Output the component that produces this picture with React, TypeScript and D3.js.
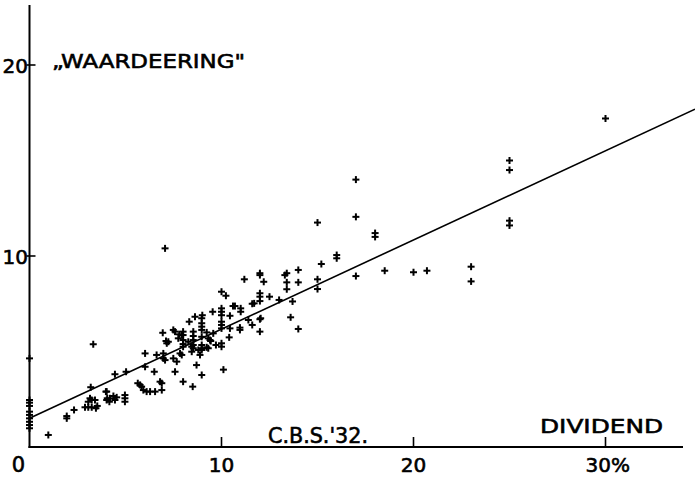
import React from "react";
import * as d3 from "d3";

// Dividend (%) per observation
const dividend: number[] = [
  30, 25, 25, 25, 25, 17, 17, 15, 18, 18, 16, 16, 15.2, 17, 18.5, 20, 20.7, 23, 23, 15, 15, 14, 14,
  13.4, 13.3, 13.4, 13.4, 12, 12, 12.2, 12, 12, 12, 12.5, 13, 13.7, 11.6, 11.7, 12.04, 13.6, 14, 7.06,
  11.19, 10, 10.23, 10.6, 10.7, 11, 11, 10, 10, 10, 9.54, 9, 10.44, 11.4, 11.6, 12, 10.96, 10.96, 12,
  10, 10, 10, 10.44, 10.4, 10, 10, 8.53, 8.53, 8.53, 8.97, 8.97, 8.97, 8.97, 8.97, 9.31, 9.31, 9.57,
  9.4, 8.62, 8.32, 9.44, 7.49, 7.58, 7.8, 7.93, 6.94, 7.11, 7.23, 8, 8, 8, 8.27, 8.53, 8.53, 8.97, 8.97,
  9.23, 9.71, 9.23, 8, 8, 7.75, 7.15, 10.1,
  4.45, 5.03, 6.02, 6.02, 6.5, 6.62, 7.84, 7.93, 6.97, 6.97, 7.06, 7.49, 7.67, 7.58, 8, 8.5, 8.97, 8.7,
  8.88, 8.45, 8.45, 8.79, 8.97,
  5.64, 5.76, 5.84, 5.93, 6.1, 6.28, 6.54, 6.8, 6.89, 6.89,
  4.02, 4.02, 4.19, 4.37, 4.45, 4.54, 4.97, 4.97, 4.97,
  3.32, 3.19, 3.15, 3.24, 3.06, 3.41, 2.89, 3.06, 3.24, 3.53, 3.46, 3.98, 4.05, 4.16, 2.32, 1.94, 1.94, 0.98,
  0, 0, 0, 0, 0, 0, 0, 0, 0, 0,
];

// Waardeering per observation
const waardeering: number[] = [
  17.2, 15.0, 14.5, 11.85, 11.6, 14.0, 12.05, 11.75, 11.2, 11.0, 10.05, 9.88, 9.58, 8.95, 9.23, 9.15, 9.23, 9.44, 8.67, 8.78, 8.27, 9.27, 8.62,
  9.1, 9.0, 8.62, 8.26, 9.1, 9.0, 8.65, 8.05, 7.87, 7.64, 7.87, 7.7, 7.62, 7.5, 7.52, 6.74, 6.79, 6.18, 10.4,
  8.78, 8.13, 7.92, 7.38, 7.38, 7.26, 7.08, 7.26, 7.08, 6.9, 7.08, 6.9, 6.87, 6.65, 6.39, 6.69, 6.25, 6.13, 6.04,
  6.56, 6.39, 6.21, 6.21, 5.74, 5.43, 5.25, 6.04, 5.81, 5.6, 6.74, 6.48, 6.3, 6.13, 5.77, 5.69, 5.17, 5.95,
  5.6, 6.82, 6.56, 5.55, 6.13, 6.04, 5.9, 5.86, 5.98, 5.55, 5.51, 5.6, 5.39, 5.25, 5.51, 5.34, 5.17, 5.34, 5.17,
  5.22, 5.34, 6.0, 6.04, 5.86, 5.69, 5.43, 4.05,
  3.81, 3.94, 4.2, 4.9, 3.94, 4.82, 4.9, 4.82, 4.9, 4.64, 4.55, 4.64, 4.47, 3.94, 3.42, 3.16, 3.77, 4.29,
  4.82, 4.99, 5.25, 5.08, 5.08,
  3.34, 3.25, 3.16, 2.98, 2.9, 2.9, 2.9, 3.42, 3.34, 2.98,
  2.9, 2.46, 2.55, 2.67, 2.46, 2.6, 2.72, 2.55, 2.37,
  5.38, 3.13, 2.55, 2.46, 2.37, 2.46, 2.08, 2.08, 2.08, 2.15, 2.03, 2.9, 2.55, 2.37, 1.94, 1.62, 1.5, 0.63,
  4.64, 2.46, 2.32, 2.15, 1.85, 1.68, 1.5, 1.32, 1.15, 0.98,
];

const xTicks: number[] = [10, 20, 30];
const xTickLabels: string[] = ["10", "20", "30%"];
const yTicks: number[] = [10, 20];
const yTickLabels: string[] = ["10", "20"];

// Regression line: waardeering = a + b * dividend
const regIntercept = 1.5;
const regSlope = 0.467;

const W = 695;
const H = 477;

export default function App() {
  const x = d3.scaleLinear().domain([0, 10]).range([29.5, 221.5]);
  const y = d3.scaleLinear().domain([0, 10]).range([447, 256]);
  const xMax = x.invert(W);
  const lineGen = d3
    .line<number>()
    .x((d) => x(d))
    .y((d) => y(regIntercept + regSlope * d));

  const font = "'DejaVu Sans', sans-serif";
  const arm = 3.5;
  const tStroke = { stroke: "#000", strokeWidth: 0.6 };

  return (
    <svg
      width={W}
      height={H}
      style={{ position: "absolute", left: 0, top: 0, background: "#fff" }}
    >
      {/* axes */}
      <line x1={x(0)} y1={5} x2={x(0)} y2={y(0) + 1} stroke="#000" strokeWidth={2} />
      <line x1={x(0) - 1} y1={y(0)} x2={683} y2={y(0)} stroke="#000" strokeWidth={2} />

      {xTicks.map((t, i) => (
        <g key={"xt" + i}>
          <line x1={x(t)} y1={y(0)} x2={x(t)} y2={y(0) - 10} stroke="#000" strokeWidth={1.6} />
          <text
            x={i === 2 ? x(t) - 20 : x(t)}
            y={472}
            fontFamily={font}
            fontSize={20}
            textAnchor={i === 2 ? "start" : "middle"}
            {...tStroke}
          >
            {xTickLabels[i]}
          </text>
        </g>
      ))}
      <text x={x(0) - 11} y={472} fontFamily={font} fontSize={21} textAnchor="middle" {...tStroke}>
        0
      </text>

      {yTicks.map((t, i) => (
        <g key={"yt" + i}>
          <line x1={x(0) - 3} y1={y(t)} x2={x(0) + 6} y2={y(t)} stroke="#000" strokeWidth={1.6} />
          <text x={28} y={y(t) + 8} fontFamily={font} fontSize={20} textAnchor="end" {...tStroke}>
            {yTickLabels[i]}
          </text>
        </g>
      ))}

      {/* titles */}
      <text x={52} y={68} fontFamily={font} fontSize={20} textLength={193} lengthAdjust="spacingAndGlyphs" {...tStroke}>
        „WAARDEERING"
      </text>
      <text x={540} y={433} fontFamily={font} fontSize={20} textLength={123} lengthAdjust="spacingAndGlyphs" {...tStroke}>
        DIVIDEND
      </text>
      <text x={268} y={443} fontFamily={font} fontSize={21} textLength={100} lengthAdjust="spacingAndGlyphs" {...tStroke}>
        C.B.S.'32.
      </text>

      {/* regression line */}
      <path d={lineGen([0, xMax]) || ""} fill="none" stroke="#000" strokeWidth={1.6} />

      {/* points */}
      {dividend.map((dv, i) => {
        const cx = x(dv);
        const cy = y(waardeering[i]);
        return (
          <g key={"p" + i} stroke="#000" strokeWidth={2}>
            <line x1={cx - arm} y1={cy} x2={cx + arm} y2={cy} />
            <line x1={cx} y1={cy - arm} x2={cx} y2={cy + arm} />
          </g>
        );
      })}
    </svg>
  );
}
